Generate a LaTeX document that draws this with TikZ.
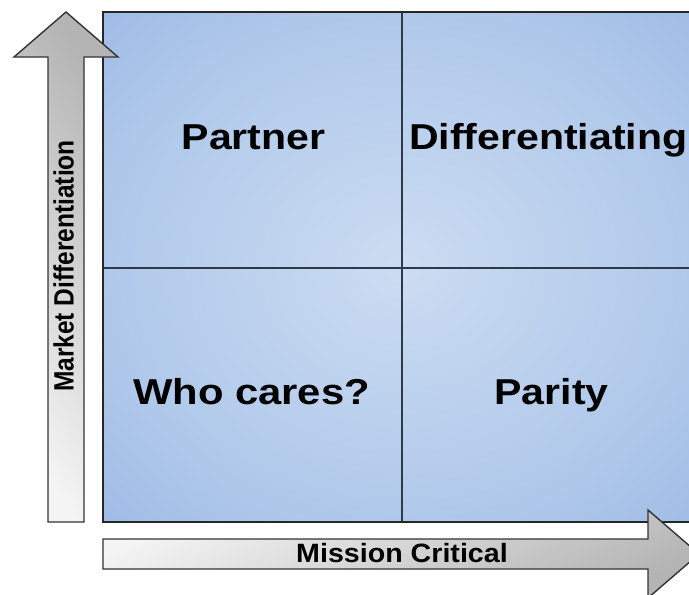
\documentclass[tikz,border=0pt]{standalone}
\usepackage{fontspec}
\setmainfont{Liberation Sans}
\definecolor{qin}{HTML}{CCDCF2}
\definecolor{qmid}{HTML}{AFC8EA}
\definecolor{qout}{HTML}{8AACDF}
\definecolor{arlight}{HTML}{F4F4F4}
\definecolor{ardark}{HTML}{B4B4B4}
\definecolor{lineclr}{HTML}{2E3A48}
\pgfdeclareradialshading{quadshade}{\pgfpoint{0bp}{0bp}}{color(0bp)=(qin); color(25bp)=(qmid); color(50bp)=(qout)}
\begin{document}
\begin{tikzpicture}[x=1pt,y=-1pt,
  quadlabel/.style={font=\fontsize{36}{40}\selectfont\bfseries, inner sep=0pt, anchor=base},
  axislabel/.style={font=\fontsize{26.5}{30}\selectfont\bfseries, inner sep=0pt, anchor=base},
  arrowshape/.style={draw=black!80, line width=1.4pt, line join=miter},
  gridline/.style={draw=lineclr, line width=1.3pt},
  gridborder/.style={draw=black!85, line width=1.6pt}]
\useasboundingbox (0,0) rectangle (689,595);
\clip (0,0) rectangle (689,595);
% grid corners
\coordinate (gtl) at (103,12);
\coordinate (gbr) at (701,522);
\coordinate (mtop) at (402,12);
\coordinate (mbot) at (402,522);
\coordinate (mleft) at (103,268);
\coordinate (mright) at (701,268);
\shade[shading=quadshade] (gtl) rectangle (gbr);
\draw[gridline] (mtop) -- (mbot);
\draw[gridline] (mleft) -- (mright);
\draw[gridborder] (gtl) rectangle (gbr);
% vertical arrow
\shade[arrowshape, bottom color=arlight, top color=ardark, shading angle=-55]
  (48,522) -- (48,57) -- (14,57) -- (66,12) -- (118,57) -- (84,57) -- (84,522) -- cycle;
% horizontal arrow
\shade[arrowshape, top color=arlight, bottom color=ardark, shading angle=25]
  (103,539) -- (648,539) -- (648,510) -- (699,554) -- (648,598) -- (648,569) -- (103,569) -- cycle;
% labels
\node[quadlabel] (partner) at (253.5,149) {\scalebox{1.14}[1]{Partner}};
\node[quadlabel, anchor=base west] (diff) at (409,149) {\scalebox{1.14}[1]{Differentiating}};
\node[quadlabel] (who) at (251.5,404) {\scalebox{1.16}[1]{Who cares?}};
\node[quadlabel] (parity) at (551.5,404) {\scalebox{1.14}[1]{Parity}};
\node[axislabel] (mission) at (402,562) {\scalebox{1.08}[1]{Mission Critical}};
\node[axislabel, font=\fontsize{24.5}{28}\selectfont\bfseries, rotate=90] (market) at (73.5,266) {\scalebox{1}[1.14]{Market Differentiation}};
\end{tikzpicture}
\end{document}
